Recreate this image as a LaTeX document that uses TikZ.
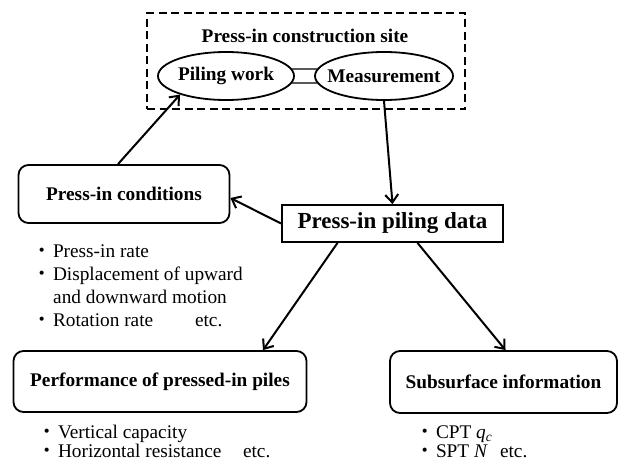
\documentclass[tikz,border=0pt]{standalone}
\usepackage{fontspec}
\setmainfont{Liberation Serif}
\newfontfamily\jpfont{Noto Sans CJK JP}
\usetikzlibrary{arrows.meta,shapes.geometric}
\newcommand{\dotitem}{{\jpfont ・}\hspace{1.5pt}}
\newcommand{\labelfont}{\fontsize{19.3}{23}\selectfont\bfseries}
\tikzset{
  box/.style={draw,line width=1.8pt,rounded corners=10pt,font=\labelfont,inner sep=0pt},
  oval/.style={draw,ellipse,line width=1.8pt,font=\labelfont,minimum width=136pt,minimum height=48pt,inner sep=0pt},
  frame/.style={draw,line width=1.5pt,dash pattern=on 8pt off 4.5pt,minimum width=318pt,minimum height=96pt,inner sep=0pt},
  link/.style={line width=1.3pt},
  arr/.style={line width=2pt,-{Straight Barb[length=8pt,width=13pt]}},
  item/.style={anchor=base west,inner sep=0pt}
}
\begin{document}
\begin{tikzpicture}[x=1pt,y=-1pt,font=\fontsize{19.3}{23}\selectfont]
    \useasboundingbox (0,0) rectangle (618,466);
    % construction site
    \node[frame] (site) at (306,61) {};
    \node[anchor=base,inner sep=0pt,font=\labelfont] (sitelabel) at (305,42) {Press-in construction site};
    \node[oval] (piling) at (226,76) {\makebox[0pt]{Piling work}};
    \node[oval,minimum width=138pt] (meas) at (384,76) {\makebox[0pt]{Measurement}};
    \draw[link] (piling.6) -- (meas.174);
    \draw[link] (piling.-6) -- (meas.-174);
    % boxes
    \node[box,rounded corners=0pt,minimum width=221pt,minimum height=37pt,font=\fontsize{23}{27}\selectfont\bfseries] (data) at (392.5,223.5) {Press-in piling data};
    \node[box,minimum width=211pt,minimum height=58pt] (cond) at (124,194) {Press-in conditions};
    \node[box,minimum width=293pt,minimum height=61pt] (perf) at (160,381.5) {Performance of pressed-in piles};
    \node[box,minimum width=227pt,minimum height=62pt] (sub) at (503.5,382) {Subsurface information};
    % arrows
    \draw[arr] ([xshift=-6pt]cond.north) -- (piling.202);
    \draw[arr] (meas.south) -- (data.north);
    \draw[arr] (data.west) -- ([yshift=-4pt]cond.east);
    \draw[arr] ([xshift=-55pt]data.south) -- ([xshift=103pt]perf.north);
    \draw[arr] ([xshift=25pt]data.south) -- ([xshift=2pt]sub.north);
    % lists
    \node[item] (rate) at (32,257) {\dotitem Press-in rate};
    \node[item] (disp) at (32,280) {\dotitem Displacement of upward};
    \node[item] (disp2) at (53,303) {and downward motion};
    \node[item] (rot) at (32,326) {\dotitem\makebox[142pt][l]{Rotation rate}etc.};
    \node[item] (vert) at (37,438) {\dotitem Vertical capacity};
    \node[item] (horiz) at (37,457) {\dotitem\makebox[185pt][l]{Horizontal resistance}etc.};
    \node[item] (cpt) at (415,438) {\dotitem CPT \textit{q}\textsubscript{\textit{c}}};
    \node[item] (spt) at (415,457) {\dotitem\makebox[64pt][l]{SPT \textit{N}}etc.};
\end{tikzpicture}
\end{document}
